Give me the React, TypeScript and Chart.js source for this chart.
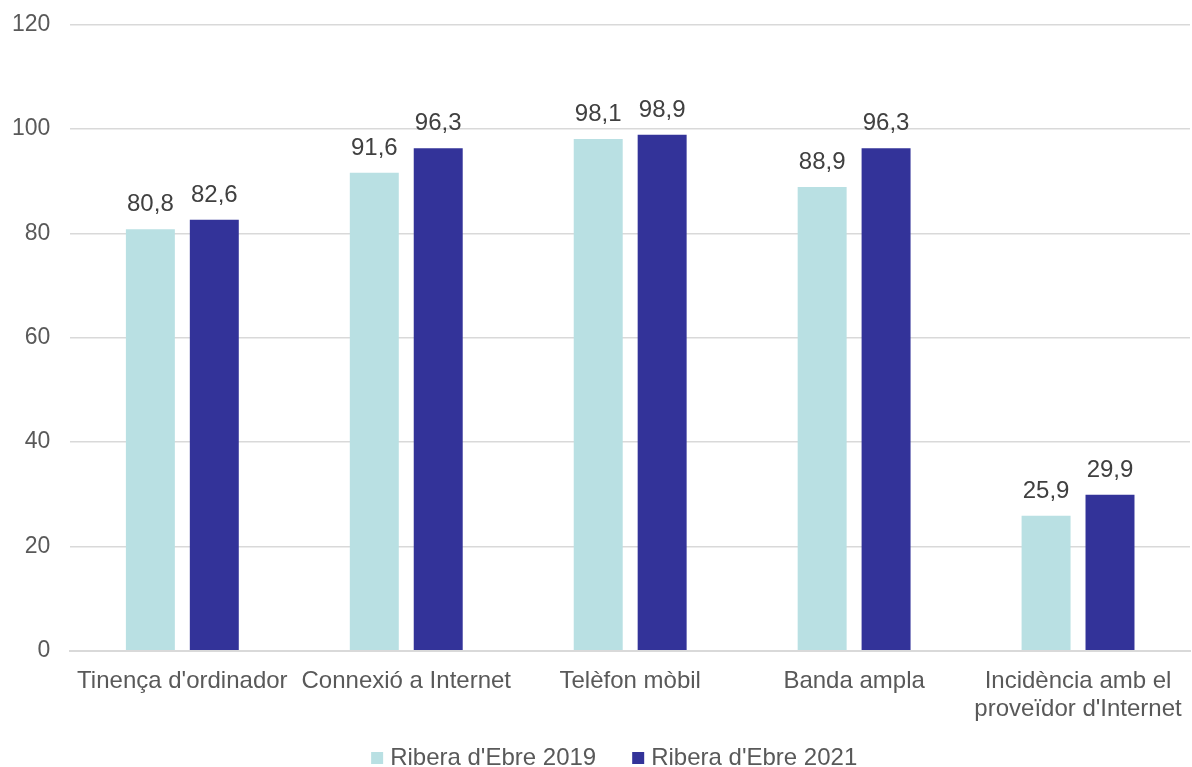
import React, { useEffect, useRef } from "react";
import { Chart, registerables } from "chart.js";

Chart.register(...registerables);

const categories: (string | string[])[] = [
  "Tinença d'ordinador",
  "Connexió a Internet",
  "Telèfon mòbil",
  "Banda ampla",
  ["Incidència amb el", "proveïdor d'Internet"],
];
const series2019 = [80.8, 91.6, 98.1, 88.9, 25.9];
const series2021 = [82.6, 96.3, 98.9, 96.3, 29.9];
const seriesNames = ["Ribera d'Ebre 2019", "Ribera d'Ebre 2021"];
const seriesColors = ["#b9e0e3", "#333399"];
const yTicks = { min: 0, max: 120, step: 20 };

const FONT = "'Liberation Sans', Arial, sans-serif";

const valueLabels = {
  id: "valueLabels",
  afterDatasetsDraw(chart: any) {
    const ctx = chart.ctx;
    ctx.save();
    ctx.font = `24px ${FONT}`;
    ctx.fillStyle = "#404040";
    ctx.textAlign = "center";
    ctx.textBaseline = "alphabetic";
    chart.data.datasets.forEach((ds: any, i: number) => {
      const meta = chart.getDatasetMeta(i);
      meta.data.forEach((el: any, j: number) => {
        const v = ds.data[j];
        ctx.fillText(v.toFixed(1).replace(".", ","), el.x, el.y - 18);
      });
    });
    ctx.restore();
  },
};

const customLegend = {
  id: "customLegend",
  afterDraw(chart: any) {
    const ctx = chart.ctx;
    ctx.save();
    ctx.font = `24px ${FONT}`;
    ctx.textBaseline = "middle";
    ctx.textAlign = "left";
    const box = 12;
    const gap = 7;
    const itemGap = 36;
    const items = chart.data.datasets.map((ds: any) => ({
      label: ds.label,
      color: ds.backgroundColor,
      w: ctx.measureText(ds.label).width,
    }));
    const total = items.reduce((s: number, it: any) => s + box + gap + it.w, 0) + itemGap * (items.length - 1);
    const cx = (chart.chartArea.left + chart.chartArea.right) / 2 - 16;
    let x = cx - total / 2;
    const y = chart.height - 9;
    items.forEach((it: any) => {
      ctx.fillStyle = it.color;
      ctx.fillRect(x, y - box / 2, box, box);
      x += box + gap;
      ctx.fillStyle = "#595959";
      ctx.fillText(it.label, x, y);
      x += it.w + itemGap;
    });
    ctx.restore();
  },
};

export default function App() {
  const ref = useRef<HTMLCanvasElement>(null);
  useEffect(() => {
    document.body.style.margin = "0";
    const chart = new Chart(ref.current!, {
      type: "bar",
      data: {
        labels: categories,
        datasets: [
          { label: seriesNames[0], data: series2019, backgroundColor: seriesColors[0] },
          { label: seriesNames[1], data: series2021, backgroundColor: seriesColors[1] },
        ],
      },
      plugins: [valueLabels, customLegend],
      options: {
        animation: false,
        responsive: false,
        maintainAspectRatio: false,
        layout: { padding: { top: 0, left: -8, right: 2, bottom: 35 } },
        datasets: {
          bar: { categoryPercentage: 0.571, barPercentage: 0.766 },
        } as any,
        plugins: {
          legend: { display: false },
          tooltip: { enabled: false },
        },
        scales: {
          x: {
            grid: { display: false },
            border: { display: true, color: "#d9d9d9", width: 2 },
            ticks: {
              color: "#595959",
              font: { size: 24, family: FONT, lineHeight: 1.15 },
              maxRotation: 0,
              autoSkip: false,
              padding: 9,
            },
          },
          y: {
            min: yTicks.min,
            max: yTicks.max,
            ticks: {
              stepSize: yTicks.step,
              color: "#595959",
              padding: 20,
              font: { size: 23, family: FONT, lineHeight: 0.4 },
            },
            grid: { color: "#d9d9d9", lineWidth: 1.5, drawTicks: false },
            border: { display: false },
          },
        },
      },
    });
    return () => chart.destroy();
  }, []);
  return (
    <div style={{ width: 1192, height: 767 }}>
      <canvas ref={ref} width={1192} height={767} style={{ display: "block" }} />
    </div>
  );
}
